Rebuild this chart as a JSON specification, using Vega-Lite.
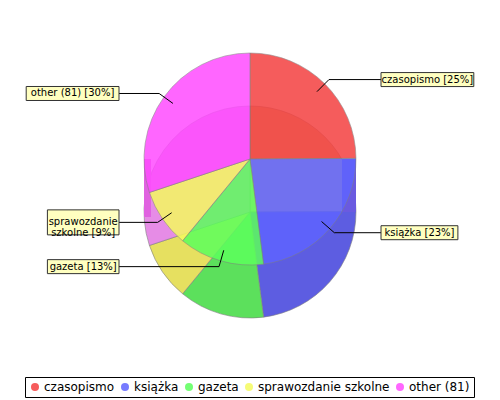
{
  "$schema": "https://vega.github.io/schema/vega-lite/v6.json",
  "width": 500,
  "height": 318,
  "autosize": {"type": "none"},
  "padding": {"top": 0, "left": 0, "right": 0, "bottom": 82},
  "background": "white",
  "config": {"view": {"stroke": null}, "font": "DejaVu Sans"},

  "data": {
    "values": [
      {"category": "czasopismo", "count": 67},
      {"category": "książka", "count": 62},
      {"category": "gazeta", "count": 35},
      {"category": "sprawozdanie szkolne", "count": 24},
      {"category": "other (81)", "count": 81}
    ]
  },

  "transform": [
    {"window": [{"op": "row_number", "as": "i"}, {"op": "sum", "field": "count", "as": "cum"}], "frame": [null, 0]},
    {"joinaggregate": [{"op": "sum", "field": "count", "as": "total"}]},
    {"calculate": "2 * PI * (datum.cum - datum.count / 2) / datum.total", "as": "mid"},
    {"calculate": "datum.category + ' [' + format(datum.count / datum.total, '.0%') + ']'", "as": "label"},
    {"calculate": "length(datum.label) > 20 ? [slice(datum.label, 0, indexof(datum.label, ' ')), slice(datum.label, indexof(datum.label, ' ') + 1)] : [datum.label]", "as": "lines"},
    {"calculate": "sin(datum.mid) >= 0 ? 1 : -1", "as": "side"},
    {"calculate": "-cos(datum.mid) * 112", "as": "ly"},
    {"calculate": "sin(datum.mid) * 112", "as": "ex"},
    {"calculate": "sin(datum.mid) * 95", "as": "px"},
    {"calculate": "-cos(datum.mid) * 95", "as": "py"},
    {"calculate": "datum.side * 131", "as": "edge"},
    {"calculate": "5.3 * max(length(datum.lines[0]), length(datum.lines[datum.lines.length - 1])) + 8", "as": "bw"},
    {"calculate": "11 * datum.lines.length + 3", "as": "bh"},
    {"calculate": "datum.side > 0 ? 131 : -131 - datum.bw", "as": "bx1"},
    {"calculate": "datum.bx1 + datum.bw", "as": "bx2"},
    {"calculate": "(datum.bx1 + datum.bx2) / 2", "as": "tx"},
    {"calculate": "datum.ly - datum.bh / 2", "as": "by1"},
    {"calculate": "datum.ly + datum.bh / 2", "as": "by2"}
  ],

  "layer": [
    {
      "mark": {"type": "arc", "outerRadius": 106, "stroke": "#808080", "strokeWidth": 0.6},
      "encoding": {
        "x": {"datum": 0, "type": "quantitative", "scale": {"domain": [-250, 250], "nice": false, "zero": false}, "axis": null},
        "y": {"datum": 53, "type": "quantitative", "scale": {"domain": [-159, 159], "nice": false, "zero": false, "reverse": true}, "axis": null},
        "theta": {"field": "count", "type": "quantitative", "stack": true},
        "order": {"field": "i", "type": "quantitative"},
        "color": {
          "field": "category", "type": "nominal",
          "scale": {
            "domain": ["czasopismo", "książka", "gazeta", "sprawozdanie szkolne", "other (81)"],
            "range": ["#DCBE96", "#5D5DE1", "#5CE05C", "#E6E060", "#E68CE6"]
          },
          "legend": null
        }
      }
    },
    {
      "data": {"values": [{"edge": "left"}]},
      "mark": {"type": "rect", "color": "#E062E0"},
      "encoding": {
        "x": {"datum": -106, "type": "quantitative"},
        "x2": {"datum": -99},
        "y": {"datum": 0, "type": "quantitative"},
        "y2": {"datum": 58}
      }
    },
    {
      "data": {"values": [{"edge": "right"}]},
      "mark": {"type": "rect", "color": "#6A5AE0"},
      "encoding": {
        "x": {"datum": 92, "type": "quantitative"},
        "x2": {"datum": 106},
        "y": {"datum": 0, "type": "quantitative"},
        "y2": {"datum": 53}
      }
    },
    {
      "mark": {"type": "arc", "outerRadius": 106, "opacity": 0.85, "stroke": "#808080", "strokeWidth": 0.6},
      "encoding": {
        "x": {"datum": 0, "type": "quantitative"},
        "y": {"datum": 0, "type": "quantitative"},
        "theta": {"field": "count", "type": "quantitative", "stack": true},
        "order": {"field": "i", "type": "quantitative"},
        "color": {
          "field": "category", "type": "nominal",
          "scale": {
            "domain": ["czasopismo", "książka", "gazeta", "sprawozdanie szkolne", "other (81)"],
            "range": ["#F44040", "#5F64FF", "#5CFF5C", "#F5FA5F", "#FF4CFF"]
          },
          "legend": {
            "title": null,
            "orient": "none",
            "legendX": 25,
            "legendY": 377,
            "direction": "horizontal",
            "columns": 5,
            "symbolType": "circle",
            "symbolSize": 64,
            "symbolStrokeWidth": 0,
            "labelFont": "DejaVu Sans",
            "labelFontSize": 12,
            "labelColor": "black",
            "labelOffset": 3,
            "columnPadding": 4,
            "padding": 4,
            "strokeColor": "black"
          }
        }
      }
    },
    {
      "mark": {"type": "rule", "color": "black", "strokeWidth": 1},
      "encoding": {
        "x": {"field": "edge", "type": "quantitative"},
        "x2": {"field": "ex"},
        "y": {"field": "ly", "type": "quantitative"}
      }
    },
    {
      "mark": {"type": "rule", "color": "black", "strokeWidth": 1},
      "encoding": {
        "x": {"field": "ex", "type": "quantitative"},
        "x2": {"field": "px"},
        "y": {"field": "ly", "type": "quantitative"},
        "y2": {"field": "py"}
      }
    },
    {
      "mark": {"type": "rect", "fill": "#C0C0C0", "xOffset": 3, "yOffset": 3},
      "encoding": {
        "x": {"field": "bx1", "type": "quantitative"},
        "x2": {"field": "bx2"},
        "y": {"field": "by1", "type": "quantitative"},
        "y2": {"field": "by2"}
      }
    },
    {
      "mark": {"type": "rect", "fill": "#FFFFC0", "stroke": "#333333", "strokeWidth": 1},
      "encoding": {
        "x": {"field": "bx1", "type": "quantitative"},
        "x2": {"field": "bx2"},
        "y": {"field": "by1", "type": "quantitative"},
        "y2": {"field": "by2"}
      }
    },
    {
      "mark": {"type": "text", "font": "DejaVu Sans", "fontSize": 10, "color": "black", "align": "center", "baseline": "middle", "lineHeight": 11},
      "encoding": {
        "x": {"field": "tx", "type": "quantitative"},
        "y": {"field": "ly", "type": "quantitative"},
        "text": {"field": "lines"}
      }
    }
  ],

  "resolve": {"scale": {"color": "independent"}}
}
